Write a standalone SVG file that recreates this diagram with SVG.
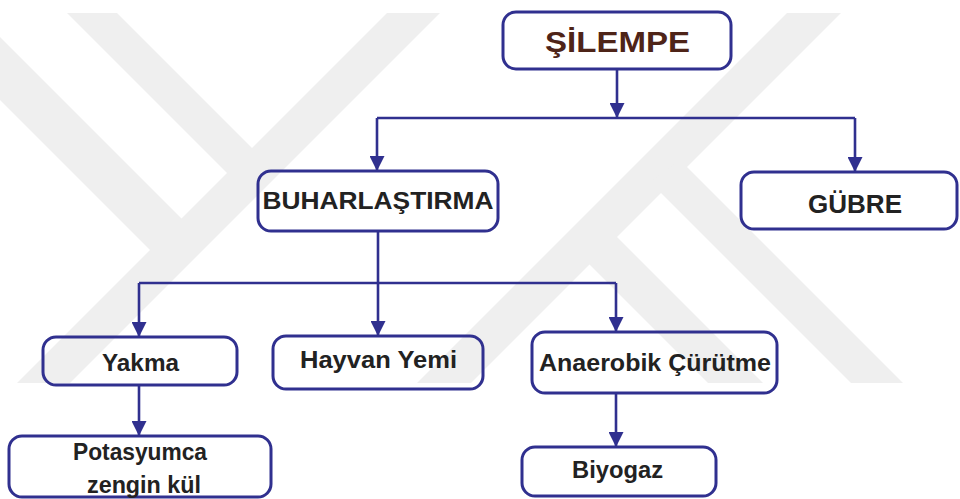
<svg xmlns="http://www.w3.org/2000/svg" width="960" height="499" viewBox="0 0 960 499">
<defs>
<style>
.wm{fill:#efefef}
.box{fill:none;stroke:#30308f;stroke-width:3}
.conn{fill:none;stroke:#30308f;stroke-width:2.6}
.lbl{font-family:"Liberation Sans",Arial,sans-serif;font-weight:bold;fill:#222;text-anchor:middle}
.title{fill:#4e2418}
</style>
<marker id="arr" markerUnits="userSpaceOnUse" markerWidth="15" markerHeight="15" refX="13" refY="7" orient="auto" viewBox="0 0 14 14">
<path d="M0,0 L14,7 L0,14 Z" fill="#30308f"/>
</marker>
</defs>
<rect width="960" height="499" fill="#ffffff"/>
<g id="watermark">
<polygon class="wm" points="67,13 117,13 270,166 245,191"/>
<polygon class="wm" points="0,37 195,232 165,265 0,100"/>
<polygon class="wm" points="17,383 70,383 440,13 387,13"/>
<polygon class="wm" points="787,13 841,13 471,383 417,383"/>
<polygon class="wm" points="600,220 763,383 708,383 570,245"/>
<polygon class="wm" points="680,160 903,383 851,383 650,182"/>
</g>
<g id="connectors">
<path class="conn" d="M617,69 V117" marker-end="url(#arr)"/>
<path class="conn" d="M377,118 H855"/>
<path class="conn" d="M377,118 V170" marker-end="url(#arr)"/>
<path class="conn" d="M855,118 V171" marker-end="url(#arr)"/>
<path class="conn" d="M378,231 V335" marker-end="url(#arr)"/>
<path class="conn" d="M139,283 H616"/>
<path class="conn" d="M139,283 V336" marker-end="url(#arr)"/>
<path class="conn" d="M616,283 V331" marker-end="url(#arr)"/>
<path class="conn" d="M139,385 V435" marker-end="url(#arr)"/>
<path class="conn" d="M616,393 V446" marker-end="url(#arr)"/>
</g>
<g id="silempe">
<rect class="box" x="503" y="12" width="228" height="57" rx="13"/>
<text class="lbl title" x="617.5" y="52" font-size="29" textLength="145" lengthAdjust="spacingAndGlyphs">ŞİLEMPE</text>
</g>
<g id="buharlastirma">
<rect class="box" x="258" y="171" width="240" height="60" rx="13"/>
<text class="lbl" x="378" y="209" font-size="23" textLength="231" lengthAdjust="spacingAndGlyphs">BUHARLAŞTIRMA</text>
</g>
<g id="gubre">
<rect class="box" x="741" y="172" width="216" height="57" rx="13"/>
<text class="lbl" x="855" y="213" font-size="26" textLength="94" lengthAdjust="spacingAndGlyphs">GÜBRE</text>
</g>
<g id="yakma">
<rect class="box" x="43" y="337" width="194" height="48" rx="13"/>
<text class="lbl" x="140.5" y="371" font-size="23" textLength="77" lengthAdjust="spacingAndGlyphs">Yakma</text>
</g>
<g id="hayvan-yemi">
<rect class="box" x="273" y="336" width="210" height="53" rx="13"/>
<text class="lbl" x="378.5" y="368" font-size="23" textLength="157" lengthAdjust="spacingAndGlyphs">Hayvan Yemi</text>
</g>
<g id="anaerobik">
<rect class="box" x="532" y="332" width="245" height="61" rx="13"/>
<text class="lbl" x="655" y="371" font-size="23" textLength="232" lengthAdjust="spacingAndGlyphs">Anaerobik Çürütme</text>
</g>
<g id="potasyumca">
<rect class="box" x="9" y="436" width="262" height="61" rx="13"/>
<text class="lbl" x="140" y="460" font-size="23" textLength="134" lengthAdjust="spacingAndGlyphs">Potasyumca</text>
<text class="lbl" x="144" y="493" font-size="23" textLength="114" lengthAdjust="spacingAndGlyphs">zengin kül</text>
</g>
<g id="biyogaz">
<rect class="box" x="522" y="447" width="194" height="49" rx="13"/>
<text class="lbl" x="617.5" y="478" font-size="23" textLength="91" lengthAdjust="spacingAndGlyphs">Biyogaz</text>
</g>
</svg>
